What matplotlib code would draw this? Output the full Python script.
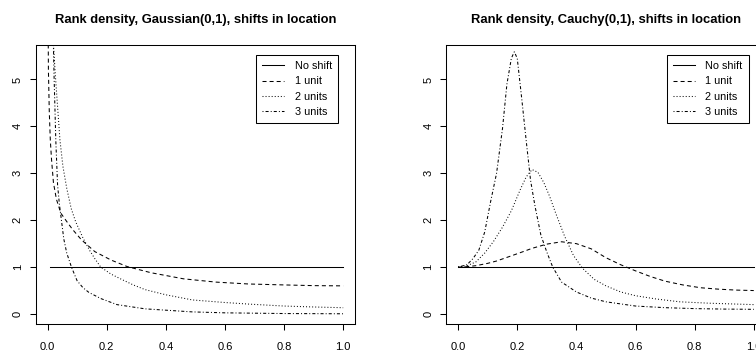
import matplotlib
matplotlib.use("Agg")
import matplotlib.pyplot as plt

plt.rcParams['font.family'] = ['Liberation Sans', 'DejaVu Sans']
plt.rcParams['lines.scale_dashes'] = False

# ---------------- data ----------------
series_labels = ["No shift", "1 unit", "2 units", "3 units"]

# Gaussian(0,1) panel
g_none_x = [0.008, 1.0]
g_none_y = [1.0, 1.0]
g_1_x = [0.002, 0.003, 0.006, 0.0095, 0.0135, 0.02, 0.03, 0.045, 0.064, 0.085, 0.115,
         0.16, 0.215, 0.27, 0.35, 0.46, 0.57, 0.68, 0.8, 0.9, 1.0]
g_1_y = [6.2, 5.2, 4.3, 3.7, 3.3, 2.8, 2.45, 2.15, 1.98, 1.8, 1.58,
         1.33, 1.15, 1.01, 0.88, 0.75, 0.68, 0.64, 0.62, 0.605, 0.60]
g_2_x = [0.012, 0.02, 0.026, 0.034, 0.042, 0.052, 0.065, 0.08, 0.095, 0.12, 0.143,
         0.16, 0.18, 0.215, 0.25, 0.29, 0.33, 0.4, 0.49, 0.6, 0.684, 0.8, 0.9, 1.0]
g_2_y = [7.0, 5.75, 5.13, 4.42, 3.71, 3.15, 2.68, 2.25, 1.97, 1.62, 1.35,
         1.18, 1.0, 0.85, 0.74, 0.62, 0.52, 0.41, 0.30, 0.245, 0.21, 0.17, 0.15, 0.134]
g_3_x = [0.015, 0.02, 0.022, 0.025, 0.028, 0.034, 0.04, 0.047, 0.055, 0.065, 0.081,
         0.1, 0.12, 0.14, 0.18, 0.235, 0.33, 0.49, 0.6, 0.8, 1.0]
g_3_y = [7.0, 5.7, 5.1, 4.4, 3.7, 2.75, 2.35, 2.0, 1.6, 1.3, 1.0,
         0.71, 0.56, 0.46, 0.33, 0.20, 0.11, 0.045, 0.025, 0.01, 0.005]

# Cauchy(0,1) panel
c_none_x = [0.0, 1.0]
c_none_y = [1.0, 1.0]
c_1_x = [0.0, 0.03, 0.06, 0.1, 0.13, 0.18, 0.22, 0.25, 0.3, 0.35, 0.4, 0.45, 0.5,
         0.55, 0.6, 0.65, 0.7, 0.76, 0.82, 0.88, 0.94, 1.0]
c_1_y = [1.0, 1.01, 1.03, 1.08, 1.13, 1.24, 1.33, 1.40, 1.49, 1.54, 1.50, 1.39, 1.2,
         1.05, 0.92, 0.80, 0.70, 0.62, 0.56, 0.53, 0.51, 0.50]
c_2_x = [0.0, 0.03, 0.06, 0.09, 0.12, 0.15, 0.18, 0.21, 0.23, 0.25, 0.27, 0.29, 0.31,
         0.33, 0.36, 0.39, 0.42, 0.46, 0.5, 0.55, 0.6, 0.67, 0.75, 0.85, 1.0]
c_2_y = [1.0, 1.03, 1.11, 1.3, 1.55, 1.85, 2.2, 2.65, 2.92, 3.08, 3.02, 2.8, 2.5,
         2.15, 1.66, 1.25, 0.98, 0.74, 0.6, 0.47, 0.39, 0.32, 0.26, 0.23, 0.20]
c_3_x = [0.0, 0.03, 0.05, 0.07, 0.09, 0.11, 0.13, 0.15, 0.165, 0.18, 0.19, 0.2, 0.215,
         0.23, 0.245, 0.26, 0.28, 0.3, 0.32, 0.35, 0.4, 0.45, 0.5, 0.6, 0.7, 0.8, 0.9, 1.0]
c_3_y = [1.0, 1.05, 1.18, 1.36, 1.75, 2.4, 3.0, 3.95, 4.9, 5.45, 5.59, 5.45, 4.6,
         3.71, 2.85, 2.3, 1.68, 1.32, 1.0, 0.68, 0.47, 0.34, 0.26, 0.17, 0.135, 0.115, 0.105, 0.10]

x_ticks = [0.0, 0.2, 0.4, 0.6, 0.8, 1.0]
x_tick_labels = ["0.0", "0.2", "0.4", "0.6", "0.8", "1.0"]
y_ticks = [0, 1, 2, 3, 4, 5]
y_tick_labels = ["0", "1", "2", "3", "4", "5"]

titles = ["Rank density, Gaussian(0,1), shifts in location",
          "Rank density, Cauchy(0,1), shifts in location"]

# ---------------- styling ----------------
line_styles = ['-', (0, (2.9, 2.2)), (0, (0.7, 1.5)), (0, (0.7, 1.5, 2.2, 1.5))]
LW = 0.75

W, H = 756, 354
fig = plt.figure(figsize=(W / 100, H / 100), dpi=100)
ax1 = fig.add_axes([35.7 / W, 1 - 324 / H, 319.3 / W, 279 / H])
ax2 = fig.add_axes([446.3 / W, 1 - 324 / H, 319.3 / W, 279 / H])

panels = [
    (ax1, [(g_none_x, g_none_y), (g_1_x, g_1_y), (g_2_x, g_2_y), (g_3_x, g_3_y)]),
    (ax2, [(c_none_x, c_none_y), (c_1_x, c_1_y), (c_2_x, c_2_y), (c_3_x, c_3_y)]),
]

for i, (ax, series) in enumerate(panels):
    for (xs, ys), ls, lab in zip(series, line_styles, series_labels):
        ax.plot(xs, ys, color='black', linestyle=ls, linewidth=LW, label=lab)
    ax.set_xlim(-0.04, 1.04)
    ax.set_ylim(-0.213, 5.735)
    ax.set_xticks(x_ticks)
    ax.set_xticklabels(x_tick_labels)
    ax.set_yticks(y_ticks)
    ax.set_yticklabels(y_tick_labels, rotation=90, va='center')
    ax.tick_params(axis='both', direction='out', length=4.6, width=LW,
                   labelsize=8, colors='black')
    ax.tick_params(axis='x', pad=8)
    ax.tick_params(axis='y', pad=4.6)
    for sp in ax.spines.values():
        sp.set_linewidth(LW)
        sp.set_color('black')
    ax.set_title(titles[i], fontsize=9.4, fontweight='bold', pad=16)
    leg = ax.legend(loc='upper right', bbox_to_anchor=(0.947, 0.964),
                    borderaxespad=0, fontsize=7.8, frameon=True, fancybox=False,
                    framealpha=1, edgecolor='black', handlelength=2.0,
                    handletextpad=1.0, labelspacing=0.5, borderpad=0.55)
    leg.get_frame().set_linewidth(LW)

fig.savefig("out.png", dpi=100)
